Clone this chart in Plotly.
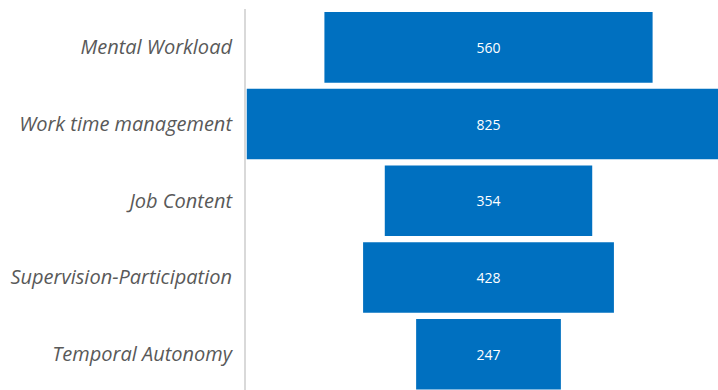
import plotly.graph_objects as go

# Categories and counts, top to bottom
categories = [
    "Mental Workload",
    "Work time management",
    "Job Content",
    "Supervision-Participation",
    "Temporal Autonomy",
]
counts = [560, 825, 354, 428, 247]

BAR_COLOR = "#0070C0"
LABEL_COLOR = "#595959"

fig = go.Figure(
    go.Funnel(
        y=categories,
        x=counts,
        text=[str(v) for v in counts],
        textinfo="text",
        textposition="inside",
        insidetextanchor="middle",
        textfont=dict(family="Open Sans", size=14, color="white"),
        marker=dict(color=BAR_COLOR, line=dict(width=0)),
        connector=dict(visible=False),
        hoverinfo="skip",
    )
)

fig.update_layout(
    width=718,
    height=390,
    margin=dict(l=246, r=0, t=9, b=0),
    paper_bgcolor="white",
    plot_bgcolor="white",
    funnelgap=0.08,
    showlegend=False,
    xaxis=dict(
        range=[-413.8, 391.6],
        visible=False,
        showgrid=False,
        zeroline=False,
    ),
    yaxis=dict(
        range=[4.467, -0.5],
        showline=True,
        linecolor="#d9d9d9",
        linewidth=2,
        showgrid=False,
        zeroline=False,
        ticks="",
        ticklabelstandoff=8,
        tickfont=dict(family="Open Sans", size=20, color=LABEL_COLOR, style="italic"),
    ),
)

fig.write_html("out.html")
